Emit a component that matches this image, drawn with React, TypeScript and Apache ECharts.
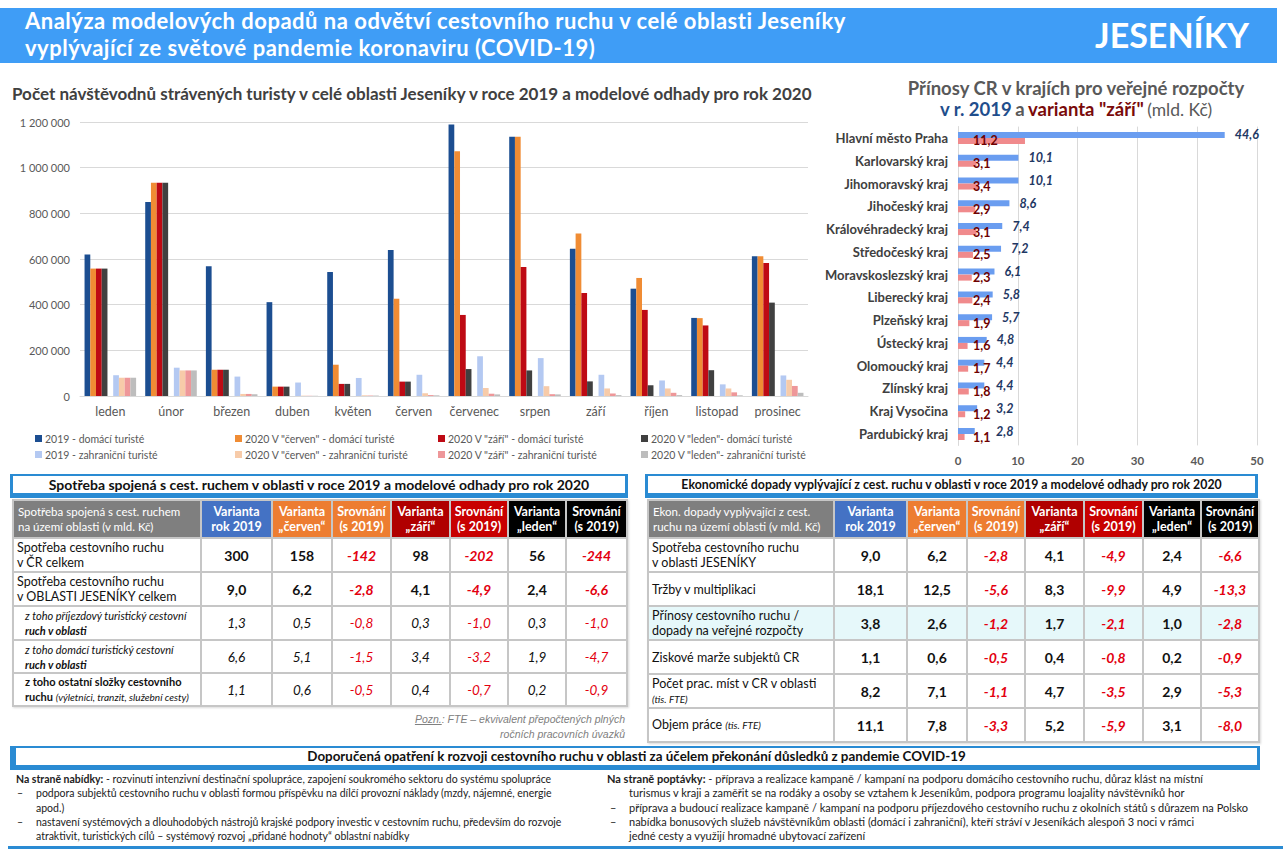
import React, { useEffect, useRef } from "react";
import * as echarts from "echarts";

const FONT = "Lato, 'Noto Sans', 'DejaVu Sans', sans-serif";

// ---------- Left chart data ----------
const months = ["leden", "únor", "březen", "duben", "květen", "červen", "červenec", "srpen", "září", "říjen", "listopad", "prosinec"];
const dom2019 = [620000, 850000, 568000, 411000, 543000, 639000, 1189000, 1135000, 645000, 470000, 342000, 612000];
const domCerven = [558000, 934000, 115000, 41000, 137000, 426000, 1072000, 1135000, 712000, 517000, 341000, 612000];
const domZari = [558000, 934000, 115000, 41000, 53000, 63000, 355000, 565000, 451000, 377000, 309000, 583000];
const domLeden = [558000, 934000, 115000, 41000, 53000, 63000, 118000, 112000, 64000, 47000, 113000, 409000];
const zahr2019 = [91000, 124000, 85000, 59000, 79000, 93000, 174000, 166000, 93000, 68000, 51000, 90000];
const zahrCerven = [80000, 112000, 9000, 1500, 3000, 12000, 35000, 43000, 33000, 33000, 33000, 71000];
const zahrZari = [80000, 112000, 9000, 1000, 2000, 4000, 10000, 8000, 11000, 14000, 16000, 44000];
const zahrLeden = [80000, 112000, 8000, 1000, 2000, 3000, 7000, 7000, 4000, 4000, 3000, 14000];
const leftTicks = { min: 0, max: 1200000, interval: 200000 };

// ---------- Right chart data ----------
const regions = ["Hlavní město Praha", "Karlovarský kraj", "Jihomoravský kraj", "Jihočeský kraj", "Královéhradecký kraj", "Středočeský kraj", "Moravskoslezský kraj", "Liberecký kraj", "Plzeňský kraj", "Ústecký kraj", "Olomoucký kraj", "Zlínský kraj", "Kraj Vysočina", "Pardubický kraj"];
const budget2019 = [44.6, 10.1, 10.1, 8.6, 7.4, 7.2, 6.1, 5.8, 5.7, 4.8, 4.4, 4.4, 3.2, 2.8];
const budgetZari = [11.2, 3.1, 3.4, 2.9, 3.1, 2.5, 2.3, 2.4, 1.9, 1.6, 1.7, 1.8, 1.2, 1.1];

// ---------- Table 1 data ----------
const t1Rok2019 = [300, 9.0, 1.3, 6.6, 1.1];
const t1Cerven = [158, 6.2, 0.5, 5.1, 0.6];
const t1CervenDiff = [-142, -2.8, -0.8, -1.5, -0.5];
const t1Zari = [98, 4.1, 0.3, 3.4, 0.4];
const t1ZariDiff = [-202, -4.9, -1.0, -3.2, -0.7];
const t1Leden = [56, 2.4, 0.3, 1.9, 0.2];
const t1LedenDiff = [-244, -6.6, -1.0, -4.7, -0.9];

// ---------- Table 2 data ----------
const t2Rok2019 = [9.0, 18.1, 3.8, 1.1, 8.2, 11.1];
const t2Cerven = [6.2, 12.5, 2.6, 0.6, 7.1, 7.8];
const t2CervenDiff = [-2.8, -5.6, -1.2, -0.5, -1.1, -3.3];
const t2Zari = [4.1, 8.3, 1.7, 0.4, 4.7, 5.2];
const t2ZariDiff = [-4.9, -9.9, -2.1, -0.8, -3.5, -5.9];
const t2Leden = [2.4, 4.9, 1.0, 0.2, 2.9, 3.1];
const t2LedenDiff = [-6.6, -13.3, -2.8, -0.9, -5.3, -8.0];

const fmt = (v: number, d: number) => v.toFixed(d).replace(".", ",");
const thousands = (v: number) => String(v).replace(/\B(?=(\d{3})+(?!\d))/g, " ");

const S = {
  d19: '2019 - domácí turisté',
  dCe: '2020 V "červen" - domácí turisté',
  dZa: '2020 V "září" - domácí turisté',
  dLe: '2020 V "leden"- domácí turisté',
  z19: '2019 - zahraniční turisté',
  zCe: '2020 V "červen" - zahraniční turisté',
  zZa: '2020 V "září" - zahraniční turisté',
  zLe: '2020 V "leden"- zahraniční turisté',
};

function Charts() {
  const ref = useRef<HTMLDivElement>(null);
  useEffect(() => {
    if (!ref.current) return;
    const chart = echarts.init(ref.current, null, { renderer: "svg" });
    const bar = (name: string, data: (number | null)[], color: string) => ({
      type: "bar",
      name,
      data,
      xAxisIndex: 0,
      yAxisIndex: 0,
      barGap: "0%",
      barCategoryGap: "15%",
      itemStyle: { color },
      silent: true,
    });
    const legendText = { fontSize: 10.5, color: "#595959", fontFamily: FONT };
    const mkLegend = (left: number, names: string[], colors: string[]) => ({
      left,
      top: 428,
      orient: "vertical",
      itemWidth: 7,
      itemHeight: 7,
      itemGap: 5,
      selectedMode: false,
      icon: "rect",
      textStyle: { ...legendText, padding: [0, 0, 0, -2] },
      data: names.map((n, i) => ({ name: n, itemStyle: { color: colors[i] } })),
    });
    const option: any = {
      animation: false,
      textStyle: { fontFamily: FONT },
      graphic: [
        {
          type: "text",
          x: 12,
          y: 93,
          style: {
            text: "Počet návštěvodnů strávených turisty v celé oblasti Jeseníky v roce 2019 a modelové odhady pro rok 2020",
            font: `bold 17px ${FONT}`,
            fill: "#404040",
            verticalAlign: "middle",
          },
        },
        {
          type: "text",
          x: 1076,
          y: 88,
          style: {
            text: "Přínosy CR v krajích pro veřejné rozpočty",
            font: `bold 18.5px ${FONT}`,
            fill: "#595959",
            align: "center",
            verticalAlign: "middle",
          },
        },
        {
          type: "text",
          x: 1076,
          y: 109,
          style: {
            text: '{b|v r. 2019} {g|a} {r|varianta "září"} {n|(mld. Kč)}',
            align: "center",
            verticalAlign: "middle",
            rich: {
              b: { font: `bold 18.5px ${FONT}`, fill: "#1F4E8C" },
              g: { font: `bold 18.5px ${FONT}`, fill: "#595959" },
              r: { font: `bold 18.5px ${FONT}`, fill: "#7A0A0A" },
              n: { font: `17.5px ${FONT}`, fill: "#595959" },
            },
          },
        },
      ],
      legend: [
        mkLegend(30, [S.d19, S.z19], ["#1C4E91", "#B4C9F2"]),
        mkLegend(230, [S.dCe, S.zCe], ["#F08C34", "#F7CBA9"]),
        mkLegend(433, [S.dZa, S.zZa], ["#BE0A14", "#EE9799"]),
        mkLegend(636, [S.dLe, S.zLe], ["#404040", "#BDBDBD"]),
      ],
      grid: [
        { left: 80, top: 122, width: 728, height: 274 },
        { left: 958, top: 126.6, width: 299, height: 318.8 },
      ],
      xAxis: [
        {
          type: "category",
          gridIndex: 0,
          data: months,
          axisTick: { show: false },
          axisLine: { lineStyle: { color: "#D9D9D9" } },
          axisLabel: { color: "#595959", fontSize: 12.5, margin: 9, interval: 0, fontFamily: FONT },
        },
        {
          type: "value",
          gridIndex: 1,
          min: 0,
          max: 50,
          interval: 10,
          axisLine: { show: false },
          axisTick: { show: false },
          splitLine: { lineStyle: { color: "#D9D9D9" } },
          axisLabel: { color: "#595959", fontSize: 11.5, fontWeight: "bold", margin: 9, fontFamily: FONT },
        },
      ],
      yAxis: [
        {
          type: "value",
          gridIndex: 0,
          ...leftTicks,
          axisLine: { show: false },
          axisTick: { show: false },
          splitLine: { lineStyle: { color: "#D9D9D9" } },
          axisLabel: { color: "#595959", fontSize: 11, margin: 10, fontFamily: FONT, formatter: (v: number) => thousands(v) },
        },
        {
          type: "category",
          gridIndex: 1,
          inverse: true,
          data: regions,
          axisTick: { show: false },
          axisLine: { lineStyle: { color: "#D9D9D9" } },
          axisLabel: { color: "#404040", fontSize: 13, fontWeight: "bold", margin: 10, fontFamily: FONT },
        },
      ],
      series: [
        bar(S.d19, dom2019, "#1C4E91"),
        bar(S.dCe, domCerven, "#F08C34"),
        bar(S.dZa, domZari, "#BE0A14"),
        bar(S.dLe, domLeden, "#404040"),
        bar("mezera", months.map(() => null), "transparent"),
        bar(S.z19, zahr2019, "#B4C9F2"),
        bar(S.zCe, zahrCerven, "#F7CBA9"),
        bar(S.zZa, zahrZari, "#EE9799"),
        bar(S.zLe, zahrLeden, "#BDBDBD"),
        {
          type: "bar",
          name: "2019",
          xAxisIndex: 1,
          yAxisIndex: 1,
          data: budget2019,
          barWidth: 6,
          barGap: "0%",
          itemStyle: { color: "#6A9DF0" },
          silent: true,
          label: {
            show: true,
            position: "right",
            distance: 10,
            color: "#1F3864",
            fontSize: 12.5,
            fontWeight: "bold",
            fontStyle: "italic",
            fontFamily: FONT,
            formatter: (p: any) => fmt(p.value, 1),
          },
          labelLayout: (p: any) =>
            p.labelRect.x < 996
              ? { x: 996, y: p.labelRect.y + p.labelRect.height / 2, align: "left", verticalAlign: "middle" }
              : {},
        },
        {
          type: "bar",
          name: "září",
          xAxisIndex: 1,
          yAxisIndex: 1,
          data: budgetZari,
          barWidth: 6,
          barGap: "0%",
          itemStyle: { color: "#F08A8C" },
          silent: true,
          label: {
            show: true,
            position: [15, 3],
            align: "left",
            verticalAlign: "middle",
            color: "#6E0000",
            fontSize: 12.5,
            fontWeight: "bold",
            fontFamily: FONT,
            formatter: (p: any) => fmt(p.value, 1),
          },
        },
      ],
    };
    chart.setOption(option);
    return () => chart.dispose();
  }, []);
  return <div ref={ref} style={{ position: "absolute", left: 0, top: 0, width: 1283, height: 470 }} />;
}

const RED = "#E3000F";
const BORDER = "2px solid #C6C6C6";

type HeadCell = { l1: string; l2: string; bg: string };
const headCells: HeadCell[] = [
  { l1: "Varianta", l2: "rok 2019", bg: "#4472C4" },
  { l1: "Varianta", l2: "„červen“", bg: "#ED7D31" },
  { l1: "Srovnání", l2: "(s 2019)", bg: "#ED7D31" },
  { l1: "Varianta", l2: "„září“", bg: "#B00000" },
  { l1: "Srovnání", l2: "(s 2019)", bg: "#C80000" },
  { l1: "Varianta", l2: "„leden“", bg: "#000000" },
  { l1: "Srovnání", l2: "(s 2019)", bg: "#000000" },
];

function DataTable(props: {
  left: number;
  top: number;
  cols: number[];
  firstHead: React.ReactNode;
  labels: React.ReactNode[];
  rowHeights: number[];
  cols7: number[][];
  decimals: (r: number) => number;
  valueStyle: (r: number) => React.CSSProperties;
  rowBg?: (r: number) => string;
}) {
  const width = props.cols.reduce((a, b) => a + b, 0);
  return (
    <table
      style={{
        position: "absolute",
        left: props.left,
        top: props.top,
        width,
        borderCollapse: "collapse",
        tableLayout: "fixed",
        fontFamily: FONT,
        boxShadow: "1px 1px 2px rgba(0,0,0,0.15)",
      }}
    >
      <colgroup>
        {props.cols.map((w, i) => (
          <col key={i} style={{ width: w }} />
        ))}
      </colgroup>
      <tbody>
        <tr style={{ height: 38 }}>
          <td style={{ background: "#7F7F7F", color: "#fff", fontSize: 11.5, lineHeight: "15px", padding: "0 4px", border: BORDER }}>
            {props.firstHead}
          </td>
          {headCells.map((h, i) => (
            <td
              key={i}
              style={{
                background: h.bg,
                color: "#fff",
                fontWeight: "bold",
                fontSize: 12.5,
                lineHeight: "15px",
                textAlign: "center",
                padding: 0,
                border: BORDER,
              }}
            >
              {h.l1}
              <br />
              {h.l2}
            </td>
          ))}
        </tr>
        {props.labels.map((lab, r) => (
          <tr key={r} style={{ height: props.rowHeights[r], background: props.rowBg ? props.rowBg(r) : "#fff" }}>
            <td style={{ fontSize: 12.5, lineHeight: "15px", color: "#111", padding: "0 3px", border: BORDER, whiteSpace: "nowrap", overflow: "hidden" }}>{lab}</td>
            {props.cols7.map((arr, c) => {
              const isDiff = c === 2 || c === 4 || c === 6;
              return (
                <td
                  key={c}
                  style={{
                    textAlign: "center",
                    border: BORDER,
                    padding: 0,
                    fontSize: 14,
                    color: isDiff ? RED : "#111",
                    ...props.valueStyle(r),
                    ...(isDiff ? { fontStyle: "italic" } : {}),
                  }}
                >
                  {fmt(arr[r], props.decimals(r))}
                </td>
              );
            })}
          </tr>
        ))}
      </tbody>
    </table>
  );
}

function TitleBox(props: { left: number; top: number; width: number; height: number; text: string; size: number; thickLeft?: boolean }) {
  return (
    <div
      style={{
        position: "absolute",
        left: props.left,
        top: props.top,
        width: props.width,
        height: props.height,
        boxSizing: "border-box",
        borderTop: "2px solid #2A8BD3",
        borderRight: "3px solid #2A8BD3",
        borderBottom: "5px solid #2A8BD3",
        borderLeft: props.thickLeft ? "6px solid #2A8BD3" : "3px solid #2A8BD3",
        background: "#fff",
        fontFamily: FONT,
        fontWeight: "bold",
        fontSize: props.size,
        color: "#111",
        textAlign: "center",
        lineHeight: `${props.height - 7}px`,
        whiteSpace: "nowrap",
      }}
    >
      {props.text}
    </div>
  );
}

const t1Labels: React.ReactNode[] = [
  <>Spotřeba cestovního ruchu<br />v ČR celkem</>,
  <>Spotřeba cestovního ruchu<br />v OBLASTI JESENÍKY celkem</>,
  <span style={{ fontStyle: "italic", fontSize: 11, paddingLeft: 8, display: "block" }}>z toho příjezdový turistický cestovní<br /><b>ruch v oblasti</b></span>,
  <span style={{ fontStyle: "italic", fontSize: 11, paddingLeft: 8, display: "block" }}>z toho domácí turistický cestovní<br /><b>ruch v oblasti</b></span>,
  <span style={{ fontSize: 11, paddingLeft: 8, display: "block" }}><b>z toho ostatní složky cestovního</b><br /><b>ruchu</b> <i style={{ fontSize: 10 }}>(výletníci, tranzit, služební cesty)</i></span>,
];

const t2Labels: React.ReactNode[] = [
  <>Spotřeba cestovního ruchu<br />v oblasti JESENÍKY</>,
  <>Tržby v multiplikaci</>,
  <>Přínosy cestovního ruchu /<br />dopady na veřejné rozpočty</>,
  <>Ziskové marže subjektů CR</>,
  <>Počet prac. míst v CR v oblasti<br /><i style={{ fontSize: 10 }}>(tis. FTE)</i></>,
  <>Objem práce <i style={{ fontSize: 10 }}>(tis. FTE)</i></>,
];

type Line = { x: number; y: number; text: React.ReactNode; dash?: boolean; size: number };
const leftLines: Line[] = [
  { x: 16, y: 779, size: 10.5, text: <><b>Na straně nabídky:</b> - rozvinutí intenzivní destinační spolupráce, zapojení soukromého sektoru do systému spolupráce</> },
  { x: 36, y: 793, size: 10.5, dash: true, text: "podpora subjektů cestovního ruchu v oblasti formou příspěvku na dílčí provozní náklady (mzdy, nájemné, energie" },
  { x: 36, y: 808, size: 10.5, text: "apod.)" },
  { x: 36, y: 822, size: 10.5, dash: true, text: "nastavení systémových a dlouhodobých nástrojů krajské podpory investic v cestovním ruchu, především do rozvoje" },
  { x: 36, y: 836, size: 10.5, text: "atraktivit, turistických cílů – systémový rozvoj „přidané hodnoty“ oblastní nabídky" },
];
const rightLines: Line[] = [
  { x: 607, y: 779, size: 11, text: <><b>Na straně poptávky:</b> - příprava a realizace kampaně / kampaní na podporu domácího cestovního ruchu, důraz klást na místní</> },
  { x: 629, y: 793, size: 11, text: "turismus v kraji a zaměřit se na rodáky a osoby se vztahem k Jeseníkům, podpora programu loajality návštěvníků hor" },
  { x: 629, y: 808, size: 11, dash: true, text: "příprava a budoucí realizace kampaně / kampaní na podporu příjezdového cestovního ruchu z okolních států s důrazem na Polsko" },
  { x: 629, y: 822, size: 11, dash: true, text: "nabídka bonusových služeb návštěvníkům oblasti (domácí i zahraniční), kteří stráví v Jeseníkách alespoň 3 noci v rámci" },
  { x: 629, y: 836, size: 11, text: "jedné cesty a využijí hromadné ubytovací zařízení" },
];

function TextLine(p: Line) {
  return (
    <>
      {p.dash && (
        <div style={{ position: "absolute", left: p.x - 19, top: p.y - 7, fontSize: p.size, lineHeight: "14px", fontFamily: FONT, color: "#222" }}>–</div>
      )}
      <div style={{ position: "absolute", left: p.x, top: p.y - 7, fontSize: p.size, lineHeight: "14px", fontFamily: FONT, color: "#222", whiteSpace: "nowrap" }}>
        {p.text}
      </div>
    </>
  );
}

const headerLine: React.CSSProperties = {
  position: "absolute",
  left: 25,
  color: "#fff",
  fontWeight: "bold",
  fontSize: 22,
  letterSpacing: 0.5,
  lineHeight: "22px",
  height: 22,
  whiteSpace: "nowrap",
};

export default function App() {
  return (
    <div style={{ position: "absolute", left: 0, top: 0, width: 1283, height: 853, overflow: "hidden", background: "#fff", fontFamily: FONT }}>
      <Charts />
      {/* Header */}
      <div style={{ position: "absolute", left: 0, top: 8, width: 1277, height: 55, background: "#3F9DF6" }}>
        <div style={{ ...headerLine, top: 2 }}>Analýza modelových dopadů na odvětví cestovního ruchu v celé oblasti Jeseníky</div>
        <div style={{ ...headerLine, top: 29 }}>vyplývající ze světové pandemie koronaviru (COVID-19)</div>
        <div style={{ position: "absolute", right: 28, top: 7, color: "#fff", fontWeight: "bold", fontSize: 34, lineHeight: "40px" }}>JESENÍKY</div>
      </div>

      {/* Table 1 */}
      <TitleBox left={10} top={474} width={618} height={24} size={14} text="Spotřeba spojená s cest. ruchem v oblasti v roce 2019 a modelové odhady pro rok 2020" />
      <DataTable
        left={12}
        top={499}
        cols={[188, 71, 60, 59, 59, 58, 58, 61]}
        firstHead={<>Spotřeba spojená s cest. ruchem<br />na území oblasti (v mld. Kč)</>}
        labels={t1Labels}
        rowHeights={[34, 34, 34, 33, 33]}
        cols7={[t1Rok2019, t1Cerven, t1CervenDiff, t1Zari, t1ZariDiff, t1Leden, t1LedenDiff]}
        decimals={(r) => (r === 0 ? 0 : 1)}
        valueStyle={(r) => (r < 2 ? { fontWeight: "bold" } : { fontStyle: "italic", fontSize: 13.5 })}
      />
      <div
        style={{
          position: "absolute",
          left: 300,
          width: 325,
          top: 712,
          textAlign: "right",
          fontFamily: "'Liberation Sans', Arial, sans-serif",
          fontStyle: "italic",
          fontSize: 10.5,
          lineHeight: "15px",
          color: "#808080",
        }}
      >
        <u>Pozn.</u>: FTE – ekvivalent přepočtených plných
        <br />
        ročních pracovních úvazků
      </div>

      {/* Table 2 */}
      <TitleBox left={645} top={474} width={613} height={24} size={12.3} text="Ekonomické dopady vyplývající z cest. ruchu v oblasti v roce 2019 a modelové odhady pro rok 2020" />
      <DataTable
        left={647}
        top={499}
        cols={[186, 73, 60, 58, 59, 59, 58, 58]}
        firstHead={<>Ekon. dopady vyplývající z cest.<br />ruchu na území oblasti (v mld. Kč)</>}
        labels={t2Labels}
        rowHeights={[34, 34, 34, 34, 34, 34]}
        cols7={[t2Rok2019, t2Cerven, t2CervenDiff, t2Zari, t2ZariDiff, t2Leden, t2LedenDiff]}
        decimals={() => 1}
        valueStyle={() => ({ fontWeight: "bold" })}
        rowBg={(r) => (r === 2 ? "#E6F8FA" : "#fff")}
      />

      {/* Bottom */}
      <TitleBox left={10} top={746} width={1250} height={24} size={13.4} thickLeft text="Doporučená opatření k rozvoji cestovního ruchu v oblasti za účelem překonání důsledků z pandemie COVID-19" />
      {leftLines.map((l, i) => (
        <TextLine key={"l" + i} {...l} />
      ))}
      {rightLines.map((l, i) => (
        <TextLine key={"r" + i} {...l} />
      ))}
      <div style={{ position: "absolute", left: 8, top: 846, width: 1275, height: 3, background: "#2A8BD3" }} />
    </div>
  );
}
